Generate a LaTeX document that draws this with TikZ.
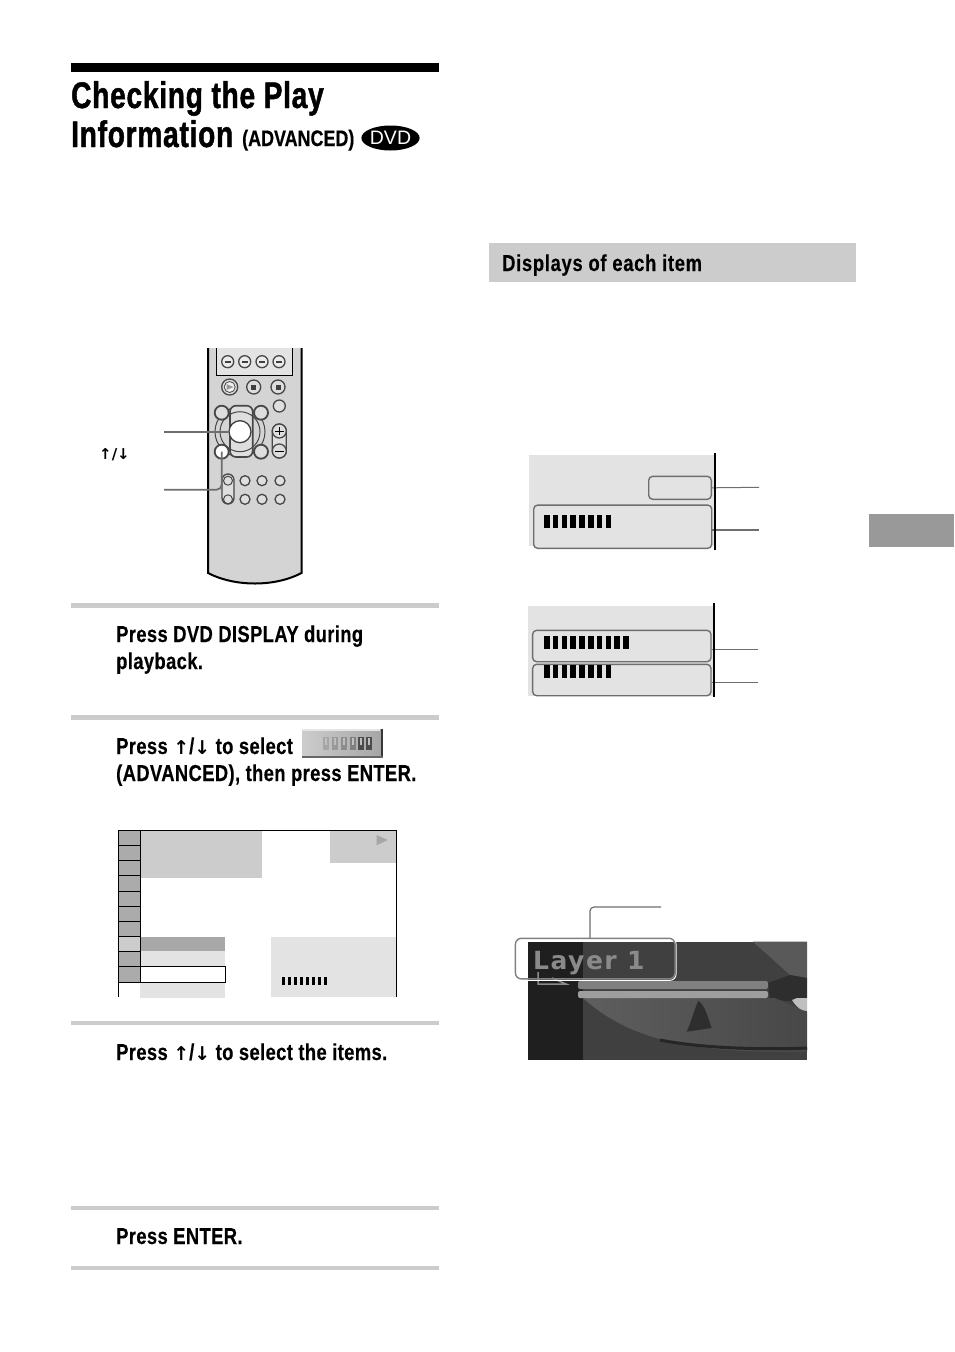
\documentclass[tikz,border=0pt]{standalone}
\usepackage{fontspec}
\setmainfont[FakeStretch=0.8]{Liberation Sans}
\newfontfamily\headfont[FakeStretch=0.76,LetterSpace=2,FakeBold=1.2]{Liberation Sans}
\newfontfamily\stepfont[FakeStretch=0.8,LetterSpace=1.6,FakeBold=0.3]{Liberation Sans}
\newfontfamily\bannerfont[FakeStretch=0.8,LetterSpace=3,FakeBold=0.3]{Liberation Sans}
\newfontfamily\advfont[FakeStretch=0.8,FakeBold=0.5]{Liberation Sans}
\newfontfamily\arrowfont{DejaVu Sans}
\newfontfamily\plainsans{Liberation Sans}
\usetikzlibrary{positioning,calc,shapes.geometric}
\tikzset{
  titletext/.style={anchor=base west,inner sep=0pt,font=\fontsize{37}{40}\selectfont\headfont\bfseries},
  subtext/.style={anchor=base west,inner sep=0pt,font=\fontsize{22.4}{26}\selectfont\advfont\bfseries},
  bannerlabel/.style={anchor=base west,inner sep=0pt,font=\fontsize{23}{26}\selectfont\bannerfont\bfseries},
  steptext/.style={anchor=base west,inner sep=0pt,font=\fontsize{23}{26}\selectfont\stepfont\bfseries},
  rulebar/.style={fill=black!20},
  callout/.style={draw=black!57,rounded corners=4pt,line width=1.4pt,fill=black!11},
  leadline/.style={draw=black!57,line width=1.4pt},
  key/.style={draw=black!72,line width=1.3pt,fill=black!13},
  menucell/.style={draw=black,line width=1pt,fill=black!33}
}
\newcommand{\stepkeys}{{\arrowfont\bfseries\fontsize{19}{19}\selectfont↑}{\fontsize{23}{23}\selectfont/}{\arrowfont\bfseries\fontsize{19}{19}\selectfont↓}}
\begin{document}
\begin{tikzpicture}[x=1pt,y=-1pt]
  \useasboundingbox (0,0) rectangle (954,1352);
  \fill[white] (0,0) rectangle (954,1352);

  % Heading
  \fill[black] (71,63) rectangle (439,72);
  \node[titletext] (headone) at (71,108) {Checking the Play};
  \node[titletext] (headtwo) at (71,147) {Information};
  \node[subtext] (headadv) at (242,146) {(ADVANCED)};
  \node[ellipse,fill=black,text=white,inner sep=0pt,minimum width=57pt,minimum height=25pt,
    font=\fontsize{19.5}{20}\selectfont\plainsans] (headdvd) at (390.5,138) {DVD};

  % Section banner and side tab
  \fill[black!20] (489,243) rectangle (856,282);
  \node[bannerlabel] (bannertext) at (502,271) {Displays of each item};
  \fill[black!40] (869,514) rectangle (954,547);

  % Remote body
  \path[fill=black!17] (208,348) -- (208,573) .. controls (235,587) and (275,587) .. (301.5,573) -- (301.5,348) -- cycle;
  \draw[line width=2pt] (208,348) -- (208,573) .. controls (235,587) and (275,587) .. (301.5,573) -- (301.5,348);
  \draw[line width=1pt,fill=black!11] (216,348) -- (216,375) -- (292,375) -- (292,348);
  \foreach \x in {227.7,244.7,262,279}{
    \draw[key,fill=black!8] (\x,361.7) circle (6);
    \draw[black!75,line width=1.6pt] (\x-3.2,361.7) -- (\x+3.2,361.7);
  }
  \draw[key] (229.7,387) circle (8);
  \draw[key,line width=.8pt,fill=black!5] (229.7,387) circle (5.5);
  \fill[black!40] (226.5,384) -- (233.5,387) -- (226.5,390) -- cycle;
  \foreach \x in {253.7,278}{
    \draw[key] (\x,387) circle (7);
    \fill[black!75] (\x-2.5,384.5) rectangle (\x+2.5,389.5);
  }
  \draw[key] (279.3,406) circle (6);

  % Remote cursor group
  \draw[key,fill=none,line width=1pt] (240,431.7) circle (25);
  \draw[key,line width=1.6pt,rounded corners=6pt] (230,405.7) rectangle (252.7,457);
  \draw[key,fill=none,line width=1pt] (240,431.7) circle (20);
  \foreach \x/\y in {221.7/412.7,261/412.7,261/451.7}{
    \draw[key,line width=1.8pt] (\x,\y) circle (7);
  }
  \draw[key,line width=1.8pt,fill=white] (221.7,451.7) circle (7);
  \node[circle,draw=black!75,line width=1.3pt,fill=white,minimum size=22pt,inner sep=0pt] (enterkey) at (240,431.7) {};
  \draw[key,rounded corners=7pt] (272.3,424) rectangle (286.3,458);
  \draw[key] (279.3,431) circle (7);
  \draw[key] (279.3,451) circle (7);
  \draw[line width=1pt] (275,431) -- (283.6,431) (279.3,427) -- (279.3,435) (275,451) -- (283.6,451);

  % Remote small keys
  \draw[key,rounded corners=6pt] (222,474) rectangle (234,504);
  \foreach \y in {480.7,499.3}{
    \draw[key,fill=none,line width=1pt] (228,\y) circle (4.5);
    \foreach \x in {245,262,280}{
      \draw[key] (\x,\y) circle (5);
    }
  }

  % Remote callouts
  \coordinate (labelone) at (164,431.7);
  \coordinate (labeltwo) at (164,489.7);
  \node[circle,inner sep=0pt,minimum size=1pt] (displaykey) at (221.7,451.7) {};
  \draw[leadline,line width=1.8pt] (labelone) -- (enterkey.west);
  \draw[leadline,line width=1.8pt,rounded corners=5pt] (labeltwo) -| (displaykey.center);
  \node[anchor=base west,inner sep=0pt,font=\fontsize{15}{15}\selectfont\arrowfont\bfseries] (remarrows) at (99,459) {↑/↓};

  % Step rules
  \foreach \y/\h in {603/5,715/5,1021/4,1206/4,1266/4}{
    \fill[rulebar] (71,\y) rectangle (439,\y+\h);
  }

  % Step one
  \node[steptext] (stepone) at (116,642) {Press DVD DISPLAY during};
  \node[steptext] (steponeb) at (116,669) {playback.};

  % Step two
  \node[steptext] (steptwo) at (116,754) {Press \stepkeys{} to select};
  \node[steptext] (steptwob) at (116,781) {(ADVANCED), then press ENTER.};
  \shade[left color=black!20,right color=black!35] (302,729.3) rectangle (381,757);
  \fill[black!10] (302,729.3) rectangle (380,731.3);
  \fill[black!78] (380.5,729.3) rectangle (382.7,758.3);
  \fill[black!60] (302,756.3) rectangle (382.7,758.3);
  \foreach \x/\k in {323/35,332/40,341/45,350/50,358/70,366/70}{
    \fill[black!\k] (\x,737) rectangle (\x+6,750);
    \fill[black!25] (\x+2.2,738) rectangle (\x+3.6,745);
  }

  % Menu screen
  \fill[black!20] (140.3,830.3) rectangle (262,878);
  \fill[black!20] (330,830.3) rectangle (396.3,862.7);
  \fill[black!35] (376.7,835) -- (387.7,840) -- (376.7,845.3) -- cycle;
  \fill[black!34] (140.3,936.7) rectangle (225,951.3);
  \fill[black!11] (140.3,951.3) rectangle (225,966.7);
  \fill[black!11] (140.3,982.3) rectangle (225,998);
  \fill[black!11] (271,936.7) rectangle (396.3,996.7);
  \foreach \ya/\yb in {830.3/845.3,845.3/860.7,860.7/875.7,875.7/891.3,891.3/906.7,906.7/921.7,921.7/936.7,951.3/966.7,966.7/982.3}{
    \draw[menucell] (118.3,\ya) rectangle (140.3,\yb);
  }
  \draw[menucell,fill=black!20] (118.3,936.7) rectangle (140.3,951.3);
  \draw[line width=1pt,fill=white] (140.3,966.7) rectangle (225,982.3);
  \draw[line width=1pt] (118.3,997) -- (118.3,830.3) -- (396.3,830.3) -- (396.3,997);
  \foreach \i in {0,...,7}{
    \fill[black] (282+\i*5.97,977) rectangle ++(3.2,8);
  }

  % Step three and four
  \node[steptext] (stepthree) at (116,1060) {Press \stepkeys{} to select the items.};
  \node[steptext] (stepfour) at (116,1244) {Press ENTER.};

  % Upper display panel
  \fill[black!11] (529,455) rectangle (714,545.7);
  \node[callout,minimum width=62.6pt,minimum height=23pt,inner sep=0pt] (panelbox) at (680,487.8) {};
  \node[callout,minimum width=178pt,minimum height=43.3pt,inner sep=0pt] (panelbars) at (622.7,526.7) {};
  \coordinate (panelend) at (759,487.3);
  \coordinate (barsend) at (759,530);
  \draw[leadline,line width=1pt] (panelbox.east) -- (panelend);
  \draw[leadline] (panelbars.east |- barsend) -- (barsend);
  \draw[line width=2pt] (714.7,453.3) -- (714.7,550);

  % Lower display panel
  \fill[black!11] (528,606.3) rectangle (714,695.7);
  \node[callout,minimum width=178.3pt,minimum height=31.4pt,inner sep=0pt] (layerone) at (621.8,646) {};
  \node[callout,minimum width=178.3pt,minimum height=31.4pt,inner sep=0pt] (layertwo) at (621.8,680) {};
  \coordinate (layeroneend) at (758,649.7);
  \coordinate (layertwoend) at (758,682.3);
  \draw[leadline] (layerone.east |- layeroneend) -- (layeroneend);
  \draw[leadline,line width=1pt] (layertwo.east |- layertwoend) -- (layertwoend);
  \draw[line width=2pt] (713.7,603.3) -- (713.7,696.7);

  % Level bars in both panels
  \foreach \bx/\by/\bn in {544/515/7,544/636.3/9,544/665/7}{
    \foreach \i in {0,...,\bn}{
      \fill[black] (\bx+\i*8.8,\by) rectangle ++(5.5,12.7);
    }
  }

  % Screen photo
  \fill[black!75] (528,941.7) rectangle (807,1060);
  \fill[black!88] (528,941.7) rectangle (583,1060);
  \fill[black!65] (753,941.7) -- (790,975) -- (807,978) -- (807,941.7) -- cycle;
  \fill[black!82] (768,983) -- (790,975) -- (807,978) -- (807,998) -- (790,1001) -- (770,1000) -- cycle;
  \shade[left color=black!63,right color=black!72] (583,998) -- (775,998) -- (807,1012) -- (807,1052) .. controls (720,1052) and (640,1050) .. (583,998) -- cycle;
  \fill[black!25] (792,1000) .. controls (797,1008) and (802,1011) .. (807,1011) -- (807,998) -- (797,998) -- cycle;
  \draw[black!85,line width=3pt] (660,1040) .. controls (700,1048) and (760,1050) .. (807,1048);
  \fill[black!50,rounded corners=2pt] (578,981) rectangle (768,989);
  \fill[black!38,rounded corners=2pt] (578,991) rectangle (768,998);
  \fill[black!82] (698.3,1001) .. controls (705,1005) and (708,1018) .. (711.7,1028) -- (686.7,1031.7) .. controls (692,1020) and (694,1010) .. (698.3,1001) -- cycle;
  \draw[black!45,line width=1.5pt] (538,972) -- (538,984) -- (566,984) -- (552,978);
  \node[anchor=base west,inner sep=0pt,text=black!46,font=\fontsize{25}{26}\selectfont\arrowfont\bfseries] (layertext) at (533,969) {\addfontfeatures{LetterSpace=6}Layer 1};
  \node[draw=white,rounded corners=6pt,line width=1pt,minimum width=161pt,minimum height=42pt,inner sep=0pt] (layerglow) at (595.5,959.3) {};
  \node[draw=black!50,rounded corners=6pt,line width=1.4pt,minimum width=159.6pt,minimum height=40.6pt,inner sep=0pt] (layerbox) at (595.2,958.6) {};
  \coordinate (layerlabel) at (661,907);
  \coordinate (layertop) at (590,938.3);
  \draw[leadline,line width=1.2pt,rounded corners=4pt] (layerlabel) -| (layertop);
\end{tikzpicture}
\end{document}
